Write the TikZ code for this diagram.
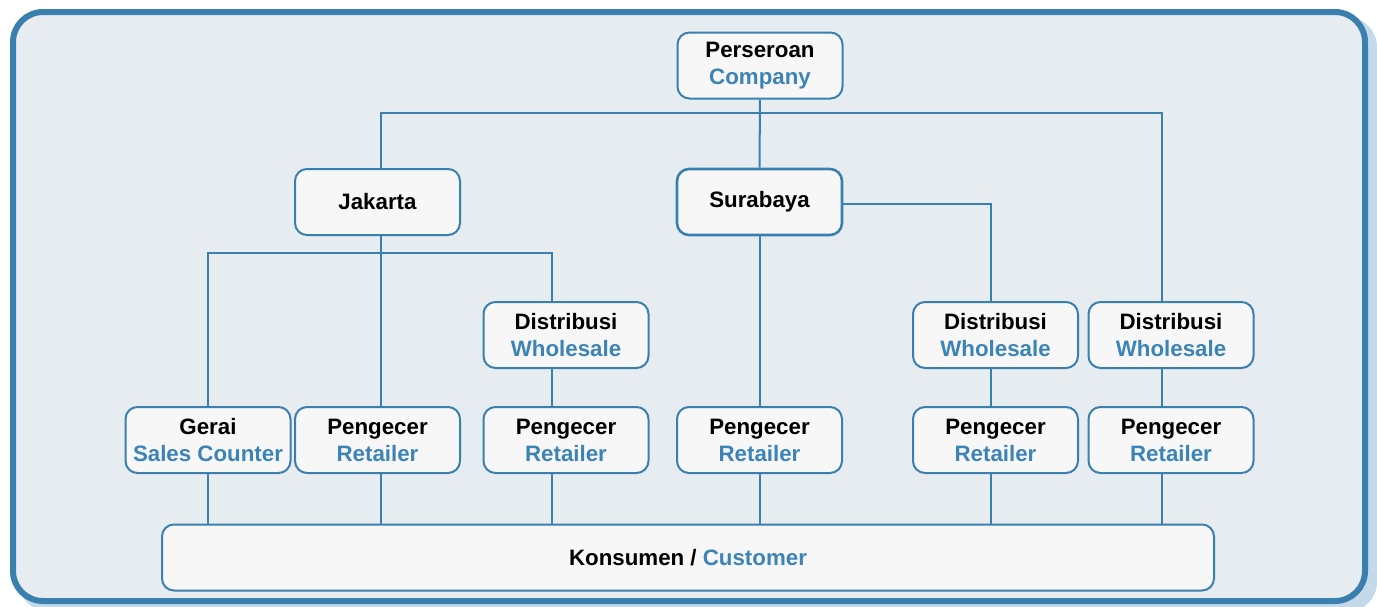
\documentclass[tikz,border=0pt]{standalone}
\usepackage{fontspec}
\setmainfont{Liberation Sans}
\usetikzlibrary{positioning, calc}

\definecolor{frameblue}{HTML}{3A80AE}
\definecolor{txtblue}{HTML}{3C84B6}
\definecolor{panelbg}{HTML}{E7ECF1}
\definecolor{boxfill}{HTML}{F8F7F8}
\definecolor{shadowblue}{HTML}{C4D9EA}

\newcommand{\en}[1]{\textcolor{txtblue}{#1}}

\begin{document}
\begin{tikzpicture}[
    x=1pt, y=-1pt,
    box/.style={rectangle, rounded corners=12pt, draw=frameblue, line width=2pt, fill=boxfill, minimum width=165pt, minimum height=66pt, align=center, font=\bfseries\fontsize{22.3}{27}\selectfont},
    link/.style={draw=frameblue, line width=2pt}
]
\useasboundingbox (0,0) rectangle (1377,606);

% Panel
\fill[shadowblue, rounded corners=30pt] (19,17) rectangle (1377,612);
\draw[frameblue, fill=panelbg, line width=6pt, rounded corners=30pt] (13,12) rectangle (1365,601);

% Top levels
\node[box] (company) at (760,65.5) {Perseroan\\\en{Company}};
\node[box] (jakarta) at (377.5,202) {Jakarta};
\node[box, line width=2.6pt] (surabaya) at (759.5,202) {Surabaya};

% Distribution
\node[box] (dist1) at (566,335) {Distribusi\\\en{Wholesale}};
\node[box] (dist2) at (995.5,335) {Distribusi\\\en{Wholesale}};
\node[box] (dist3) at (1171,335) {Distribusi\\\en{Wholesale}};

% Outlets
\node[box] (gerai) at (208,440) {Gerai\\\en{Sales Counter}};
\node[box] (peng1) at (377.5,440) {Pengecer\\\en{Retailer}};
\node[box] (peng2) at (566,440) {Pengecer\\\en{Retailer}};
\node[box] (peng3) at (759.5,440) {Pengecer\\\en{Retailer}};
\node[box] (peng4) at (995.5,440) {Pengecer\\\en{Retailer}};
\node[box] (peng5) at (1171,440) {Pengecer\\\en{Retailer}};

% Customer
\node[box, minimum width=1052pt] (konsumen) at (688,557.5) {Konsumen / \en{Customer}};

% Connections
\coordinate (bar) at (760,113);
\coordinate (jbar) at (380,253);
\draw[link] ([xshift=3pt]jakarta.north) |- (bar) -| ([xshift=-9pt]dist3.north);
\draw[link] (company.south) -- (surabaya.north);
\draw[link] ([xshift=3pt]jakarta.south) -- ([xshift=3pt]peng1.north);
\draw[link] (gerai.north) |- (jbar) -| ([xshift=-14pt]dist1.north);
\draw[link] ([yshift=-2pt]surabaya.east) -| ([xshift=-4.5pt]dist2.north);
\draw[link] (surabaya.south) -- (peng3.north);
\draw[link] ([xshift=-14pt]dist1.south) -- ([xshift=-14pt]peng2.north);
\draw[link] ([xshift=-4.5pt]dist2.south) -- ([xshift=-4.5pt]peng4.north);
\draw[link] ([xshift=-9pt]dist3.south) -- ([xshift=-9pt]peng5.north);
\draw[link] (gerai.south) -- (gerai.south |- konsumen.north);
\draw[link] ([xshift=3pt]peng1.south) -- ([xshift=3pt]peng1.south |- konsumen.north);
\draw[link] ([xshift=-14pt]peng2.south) -- ([xshift=-14pt]peng2.south |- konsumen.north);
\draw[link] (peng3.south) -- (peng3.south |- konsumen.north);
\draw[link] ([xshift=-4.5pt]peng4.south) -- ([xshift=-4.5pt]peng4.south |- konsumen.north);
\draw[link] ([xshift=-9pt]peng5.south) -- ([xshift=-9pt]peng5.south |- konsumen.north);

\end{tikzpicture}
\end{document}
